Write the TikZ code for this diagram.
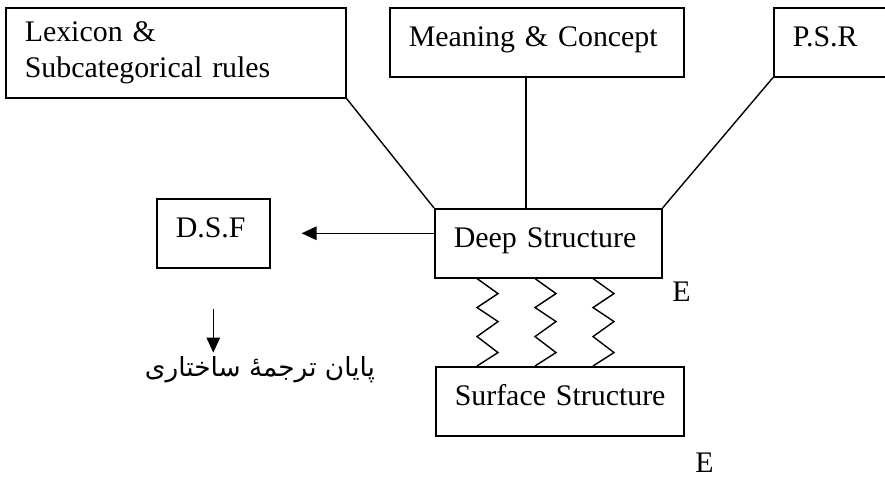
\documentclass[tikz,border=0pt]{standalone}
\usepackage{fontspec}
\setmainfont{Liberation Serif}
\newfontfamily\arabicfont[Script=Arabic]{DejaVu Sans}
\TeXXeTstate=1
\usetikzlibrary{arrows.meta, positioning}

\begin{document}
\begin{tikzpicture}[
  box/.style={draw, line width=0.9pt, anchor=north west, align=left,
              inner xsep=0.38cm, font=\fontsize{17}{20}\selectfont},
  onerow/.style={inner ysep=0.36cm, text height=0.42cm, text depth=0.24cm},
  link/.style={line width=0.8pt},
  arr/.style={line width=0.8pt, -{Triangle[length=0.3cm, width=0.27cm]}},
  elabel/.style={anchor=base west, inner sep=0pt, font=\fontsize{17}{20}\selectfont}
]
  \clip (0,0) rectangle (17.7,9.54);

  % Top row
  \node[box, text width=6.04cm, minimum height=1.8cm] (lex) at (0.1,9.4)
    {Lexicon \&\\Subcategorical rules};
  \node[box, onerow, text width=5.12cm] (mean) at (7.78,9.4) {Meaning \& Concept};
  \node[box, onerow, text width=2.24cm] (psr) at (15.46,9.4) {P.S.R};

  % Middle row
  \node[box, onerow, text width=1.5cm] (dsf) at (3.12,5.58) {D.S.F};
  \node[box, onerow, text width=3.78cm] (deep) at (8.68,5.38) {\mbox{Deep Structure}};
  \node[box, onerow, text width=4.2cm] (surf) at (8.7,2.22) {\mbox{Surface Structure}};

  % Links into deep structure
  \draw[link] (lex.south east) -- (deep.north west);
  \draw[link] ([xshift=-0.22cm]mean.south) -- ([xshift=-0.22cm]mean.south |- deep.north);
  \draw[link] (psr.south west) -- (deep.north east);

  % Transformations
  \foreach \dx in {0.86,2.02,3.18}{
    \draw[link] ([xshift=\dx cm]deep.south west) coordinate (zt)
      -- ++(0.42,-0.3) -- ++(-0.42,-0.28) -- ++(0.42,-0.28)
      -- ++(-0.42,-0.3) -- ++(0.42,-0.32) -- (zt |- surf.north);
  }

  % D.S.F branch
  \coordinate (dsfend) at ([xshift=0.62cm]dsf.east);
  \draw[arr] (deep.west |- dsf.east) -- (dsfend);
  \coordinate (dtop) at ([yshift=-0.8cm]dsf.south);
  \coordinate (dend) at ([yshift=-1.68cm]dsf.south);
  \draw[arr] (dtop) -- (dend);
  \node[inner sep=0pt, font=\arabicfont\fontsize{15}{18}\selectfont] (note) at (5.2,2.15)
    {\beginR پایان ترجمهٔ ساختاری\endR};

  % Labels
  \node[elabel] (e1) at (13.44,3.5) {E};
  \node[elabel] (e2) at (13.9,0.08) {E};
\end{tikzpicture}
\end{document}
